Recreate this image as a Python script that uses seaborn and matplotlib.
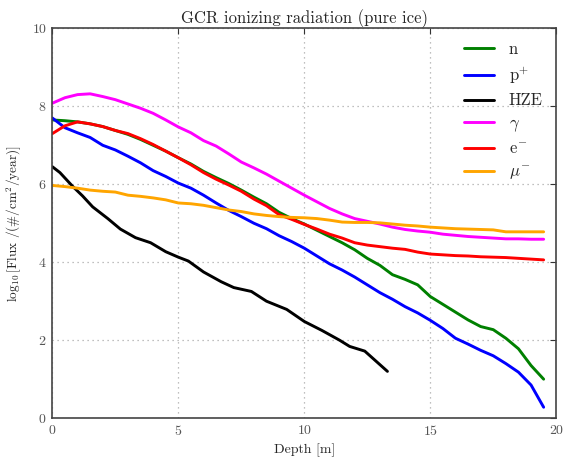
import numpy as np
import pandas as pd
import matplotlib
matplotlib.use("Agg")
import matplotlib.pyplot as plt
import seaborn as sns

sns.set_style("white")
plt.rcParams["font.family"] = ["cmr10", "DejaVu Serif"]
plt.rcParams["mathtext.fontset"] = "cm"
plt.rcParams["axes.unicode_minus"] = False
plt.rcParams["axes.formatter.use_mathtext"] = True

# ---- data ----
depth_std = [0, 0.5, 1, 1.5, 2, 2.5, 3, 3.5, 4, 4.5, 5, 5.5, 6, 6.5, 7, 7.5, 8, 8.5, 9, 9.5,
             10, 10.5, 11, 11.5, 12, 12.5, 13, 13.5, 14, 14.5, 15, 15.5, 16, 16.5, 17, 17.5,
             18, 18.5, 19, 19.5]
n_flux = [7.65, 7.63, 7.6, 7.55, 7.48, 7.38, 7.28, 7.15, 7.0, 6.85, 6.68, 6.52, 6.33, 6.17,
          6.02, 5.85, 5.67, 5.5, 5.28, 5.12, 4.98, 4.82, 4.66, 4.5, 4.32, 4.1, 3.92, 3.68,
          3.56, 3.42, 3.12, 2.92, 2.72, 2.52, 2.35, 2.27, 2.05, 1.78, 1.35, 1.0]
p_flux = [7.7, 7.45, 7.32, 7.2, 7.0, 6.88, 6.72, 6.55, 6.35, 6.2, 6.03, 5.9, 5.72, 5.52,
          5.33, 5.17, 5.0, 4.86, 4.68, 4.53, 4.36, 4.16, 3.96, 3.8, 3.62, 3.42, 3.22, 3.05,
          2.86, 2.7, 2.51, 2.3, 2.05, 1.9, 1.74, 1.6, 1.4, 1.18, 0.85, 0.28]
gamma_flux = [8.08, 8.22, 8.3, 8.32, 8.25, 8.17, 8.06, 7.95, 7.82, 7.65, 7.47, 7.32, 7.12,
              6.98, 6.78, 6.57, 6.42, 6.26, 6.08, 5.9, 5.72, 5.55, 5.38, 5.24, 5.12, 5.05,
              4.98, 4.9, 4.84, 4.8, 4.77, 4.72, 4.69, 4.66, 4.64, 4.62, 4.6, 4.6, 4.59, 4.59]
e_flux = [7.3, 7.5, 7.6, 7.55, 7.48, 7.38, 7.3, 7.17, 7.02, 6.85, 6.68, 6.5, 6.3, 6.13,
          5.98, 5.82, 5.62, 5.45, 5.22, 5.1, 4.97, 4.85, 4.72, 4.62, 4.5, 4.44, 4.4, 4.36,
          4.33, 4.26, 4.21, 4.19, 4.17, 4.16, 4.14, 4.13, 4.12, 4.1, 4.08, 4.06]
mu_flux = [5.97, 5.94, 5.9, 5.85, 5.82, 5.8, 5.72, 5.69, 5.65, 5.6, 5.52, 5.5, 5.46, 5.4,
           5.34, 5.3, 5.24, 5.2, 5.17, 5.15, 5.14, 5.12, 5.08, 5.03, 5.02, 5.02, 5.01, 4.98,
           4.95, 4.93, 4.9, 4.88, 4.86, 4.85, 4.84, 4.83, 4.78, 4.78, 4.78, 4.78]
depth_hze = [0, 0.3, 0.8, 1.2, 1.6, 2.2, 2.7, 3.3, 3.9, 4.5, 5.0, 5.4, 6.0, 6.7, 7.2, 7.9,
             8.5, 9.3, 10.0, 10.7, 11.4, 11.8, 12.4, 13.3]
hze_flux = [6.45, 6.3, 5.95, 5.7, 5.42, 5.12, 4.85, 4.63, 4.5, 4.27, 4.13, 4.03, 3.75, 3.5,
            3.35, 3.25, 3.0, 2.79, 2.48, 2.25, 2.0, 1.84, 1.72, 1.2]

labels = ["n", "p$^{+}$", "HZE", r"$\gamma$", "e$^{-}$", r"$\mu^{-}$"]
colors = ["#008000", "#0000ff", "#000000", "#ff00ff", "#ff0000", "#ffa500"]

series = [(depth_std, n_flux), (depth_std, p_flux), (depth_hze, hze_flux),
          (depth_std, gamma_flux), (depth_std, e_flux), (depth_std, mu_flux)]
frames = []
for lab, (xs, ys) in zip(labels, series):
    frames.append(pd.DataFrame({"Depth": xs, "Flux": ys, "particle": lab}))
df = pd.concat(frames, ignore_index=True)

fig = plt.figure(figsize=(5.63, 4.57), dpi=100)
ax = fig.add_axes([0.093, 0.085, 0.895, 0.853])

sns.lineplot(data=df, x="Depth", y="Flux", hue="particle", hue_order=labels,
             palette=dict(zip(labels, colors)), sort=False, estimator=None,
             linewidth=2.1, ax=ax)

ax.set_xlim(0, 20)
ax.set_ylim(0, 10)
ax.set_xticks([0, 5, 10, 15, 20])
ax.set_yticks([0, 2, 4, 6, 8, 10])
ax.grid(True, color="#aaaaaa", linestyle=(0, (1, 3)), linewidth=0.9)
ax.tick_params(direction="in", top=True, right=True, length=4, labelsize=10,
               colors="#333333", labelcolor="#555555", pad=4)
for s in ax.spines.values():
    s.set_color("#444444")
    s.set_linewidth(1.2)

ax.set_title("GCR ionizing radiation (pure ice)", fontsize=12, pad=4)
ax.set_xlabel("Depth [m]", fontsize=10)
ax.set_ylabel(r"$\log_{10}$[Flux /(#/cm$^2$/year)]", fontsize=9.5, labelpad=6)

leg = ax.legend(loc="upper right", frameon=False, fontsize=12, handlelength=1.8,
                labelspacing=0.45, handletextpad=0.9, borderaxespad=0.4,
                bbox_to_anchor=(1.0, 1.0))
for line in leg.get_lines():
    line.set_linewidth(2.1)

fig.savefig("out.png", dpi=100)
